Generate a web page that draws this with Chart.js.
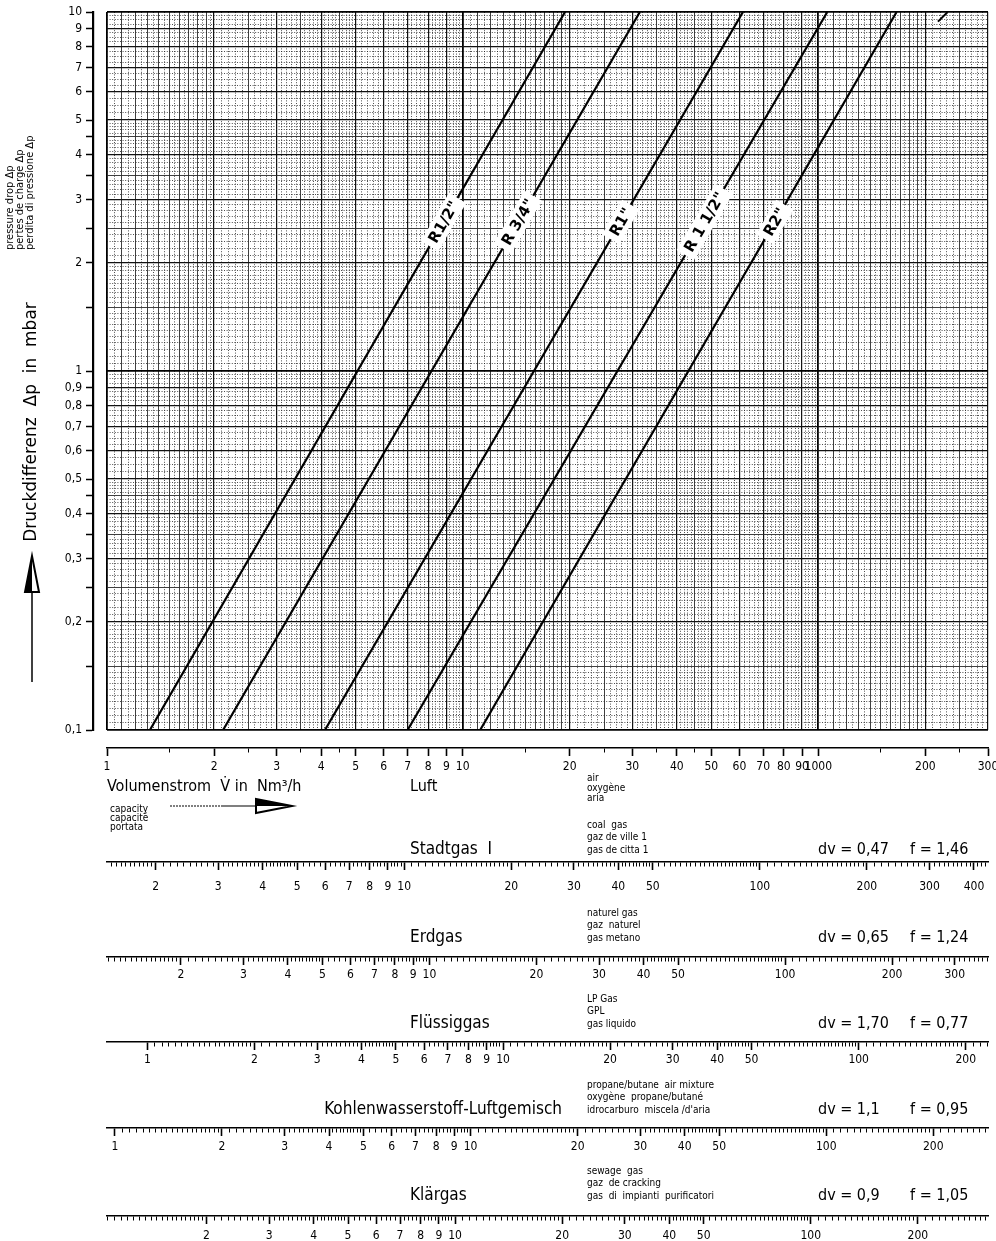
<!DOCTYPE html>
<html>
<head>
<meta charset="utf-8">
<script src="https://cdn.jsdelivr.net/npm/chart.js@4.4.1/dist/chart.umd.min.js"></script>
<style>
  html, body { margin: 0; padding: 0; background: #fff; }
  canvas { display: block; }
</style>
</head>
<body>
<canvas id="chart" width="996" height="1241"></canvas>
<script>
// pipe sizes, air flow (Nm3/h) read at 0,1 mbar and at 10 mbar
const pipeNames = ['R1/2"', 'R 3/4"', 'R1"', 'R 1 1/2"', 'R2"'];
const flowAtLow = [1.32, 2.12, 4.1, 7.0, 11.2];
const flowAtHigh = [19.4, 31.5, 61.4, 106, 166];
const dpEnds = [0.1, 10];
// short line piece at the top right edge
const stubFlow = [217, 231];
const stubDp = [9.4, 10];

// air (Luft) axis
const airTicks = [1, 2, 3, 4, 5, 6, 7, 8, 9, 10, 20, 30, 40, 50, 60, 70, 80, 90, 100, 200, 300];
const airTickText = ['1', '2', '3', '4', '5', '6', '7', '8', '9', '10', '20', '30', '40', '50', '60', '70', '80', '90', '1000', '200', '300'];
const airMinorTicks = [1.5, 2.5, 3.5, 4.5, 15, 25, 35, 45, 150, 250];

// pressure drop axis
const dpTicks = [0.1, 0.2, 0.3, 0.4, 0.5, 0.6, 0.7, 0.8, 0.9, 1, 2, 3, 4, 5, 6, 7, 8, 9, 10];
const dpTickText = ['0,1', '0,2', '0,3', '0,4', '0,5', '0,6', '0,7', '0,8', '0,9', '1', '2', '3', '4', '5', '6', '7', '8', '9', '10'];
const dpMinorTicks = [0.15, 0.25, 0.35, 0.45, 1.5, 2.5, 3.5, 4.5];

// other gases: conversion factor f against air
const gasNames = ['Stadtgas  I', 'Erdgas', 'Flüssiggas', 'Kohlenwasserstoff-Luftgemisch', 'Klärgas'];
const gasInfo = [
  ['coal  gas', 'gaz de ville 1', 'gas de citta 1'],
  ['naturel gas', 'gaz  naturel', 'gas metano'],
  ['LP Gas', 'GPL', 'gas liquido'],
  ['propane/butane  air mixture', 'oxygène  propane/butané', "idrocarburo  miscela /d'aria"],
  ['sewage  gas', 'gaz  de cracking', 'gas  di  impianti  purificatori']
];
const gasDv = ['0,47', '0,65', '1,70', '1,1', '0,9'];
const gasFText = ['1,46', '1,24', '0,77', '0,95', '1,05'];
const gasF = [1.46, 1.24, 0.77, 0.95, 1.05];
const gasTicks = [
  [2, 3, 4, 5, 6, 7, 8, 9, 10, 20, 30, 40, 50, 100, 200, 300, 400],
  [2, 3, 4, 5, 6, 7, 8, 9, 10, 20, 30, 40, 50, 100, 200, 300],
  [1, 2, 3, 4, 5, 6, 7, 8, 9, 10, 20, 30, 40, 50, 100, 200],
  [1, 2, 3, 4, 5, 6, 7, 8, 9, 10, 20, 30, 40, 50, 100, 200],
  [2, 3, 4, 5, 6, 7, 8, 9, 10, 20, 30, 40, 50, 100, 200]
];

const xMin = 1, xMax = 300;
const labelDp = 2.6;

// layout (pixels)
const plotTop = 12, plotBottom = 730, plotRight = 988;
const yAxisWidth = 93, yGap = 14;
const airAxisY = 748;
const gasAxisY = [862, 957, 1042, 1128, 1216];
const gasTextY = [850, 938, 1024, 1110, 1196];
const gasLabelPad = [10, 3, 3, 4, 5];
const canvasH = 1241;

const FONT = "'DejaVu Sans', sans-serif";
const FONT_C = "'DejaVu Sans Condensed', 'DejaVu Sans', sans-serif";
Chart.defaults.font.family = FONT_C;
Chart.defaults.color = '#000';

const key = v => (+v).toPrecision(5);
const mant = v => +(v / Math.pow(10, Math.floor(Math.log10(v) + 1e-9))).toPrecision(6);
const isInt = v => Math.abs(v - Math.round(v)) < 1e-6;

// grid / tick values per decade: steps within [1,2), [2,5), [5,10)
function logSteps(lo, hi, steps) {
  const out = [];
  const segs = [[1, 2, steps[0]], [2, 5, steps[1]], [5, 10, steps[2]]];
  for (let e = Math.floor(Math.log10(lo) + 1e-9); Math.pow(10, e) <= hi; e++) {
    const d = Math.pow(10, e);
    for (const [a, b, s] of segs) {
      const n = Math.round((b - a) / s);
      for (let i = 0; i < n; i++) {
        const v = +((a + i * s) * d).toPrecision(6);
        if (v >= lo * 0.9999 && v <= hi * 1.0001) out.push(v);
      }
    }
  }
  return out;
}

function merge(...lists) {
  const m = new Map();
  lists.flat().forEach(v => m.set(key(v), v));
  return [...m.values()].sort((a, b) => a - b);
}

const xGridVals = logSteps(xMin, xMax, [0.05, 0.1, 0.2]);
const yGridVals = logSteps(dpEnds[0], dpEnds[1], [0.05, 0.1, 0.25]);

function xKind(v) {
  const m = mant(v);
  if (isInt(m)) return m === 1 ? 'decade' : 'major';
  if (m < 2) return isInt(m * 10) ? 'mid' : 'minor';
  if (m < 5) return isInt(m * 2) ? 'mid' : 'minor';
  return 'minor';
}
function yKind(v) {
  const m = mant(v);
  if (isInt(m)) return m === 1 ? 'decade' : 'major';
  if (m < 5 && isInt(m * 2)) return 'mid';
  return 'minor';
}
const gridStyle = {
  decade: { color: '#000', width: 1.8, dash: [] },
  major: { color: '#111', width: 1.2, dash: [] },
  mid: { color: '#2a2a2a', width: 0.9, dash: [] },
  minor: { color: '#222', width: 0.8, dash: [1, 1.6] }
};
const styleOf = (c, kindFn, prop) => {
  const k = c.tick ? kindFn(c.tick.value) : 'minor';
  return gridStyle[k][prop];
};

function fixedTicks(values) {
  return s => { s.ticks = values.map(v => ({ value: v })); };
}
function fixedHeight(h) {
  return s => { s.height = h; s.paddingLeft = 0; s.paddingRight = 0; };
}

function labelScale(id, weight, min, max, labelled, texts, extra, height, pad) {
  const names = new Map(labelled.map((v, i) => [key(v), texts[i]]));
  return {
    type: 'logarithmic', axis: 'x', position: 'bottom', weight, min, max,
    afterBuildTicks: fixedTicks(merge(labelled, extra)),
    afterFit: fixedHeight(height),
    ticks: {
      autoSkip: false, maxRotation: 0, minRotation: 0, padding: pad,
      font: { size: 12 },
      callback: v => names.get(key(v)) || ''
    },
    grid: {
      drawOnChartArea: false, drawTicks: true, tickLength: 8, tickColor: '#000',
      tickWidth: c => (c.tick && names.has(key(c.tick.value))) ? 1.6 : 1,
      tickBorderDash: c => (c.tick && names.has(key(c.tick.value))) ? [] : [4, 40]
    },
    border: { display: true, color: '#000', width: 1.5 }
  };
}

const scales = {
  x: {
    type: 'logarithmic', position: 'bottom', weight: 0, min: xMin, max: xMax,
    afterBuildTicks: fixedTicks(xGridVals),
    afterFit: fixedHeight(airAxisY - plotBottom),
    ticks: { display: false },
    grid: {
      drawTicks: false,
      color: c => styleOf(c, xKind, 'color'),
      lineWidth: c => styleOf(c, xKind, 'width')
    },
    border: { display: false, dash: c => styleOf(c, xKind, 'dash') }
  },
  y: {
    type: 'logarithmic', position: 'left', weight: 0, min: dpEnds[0], max: dpEnds[1],
    afterBuildTicks: fixedTicks(yGridVals),
    afterFit: s => { s.width = yGap; s.paddingTop = 0; s.paddingBottom = 0; },
    ticks: { display: false },
    grid: {
      drawTicks: false,
      color: c => styleOf(c, yKind, 'color'),
      lineWidth: c => styleOf(c, yKind, 'width')
    },
    border: { display: false, dash: c => styleOf(c, yKind, 'dash') }
  },
  yAxis: {
    type: 'logarithmic', axis: 'y', position: 'left', weight: 1, min: dpEnds[0], max: dpEnds[1],
    afterBuildTicks: fixedTicks(merge(dpTicks, dpMinorTicks)),
    afterFit: s => { s.width = yAxisWidth; s.paddingTop = 0; s.paddingBottom = 0; },
    ticks: {
      autoSkip: false, padding: 4, font: { size: 12 },
      callback: (v) => {
        const i = dpTicks.findIndex(t => key(t) === key(v));
        return i >= 0 ? dpTickText[i] : '';
      }
    },
    grid: { drawOnChartArea: false, drawTicks: true, tickLength: 7, tickWidth: 1.5, tickColor: '#000' },
    border: { display: true, color: '#000', width: 2.2 }
  },
  xAir: labelScale('xAir', 1, xMin, xMax, airTicks, airTickText, airMinorTicks, gasAxisY[0] - airAxisY, 4)
};

gasNames.forEach((g, i) => {
  const lo = xMin * gasF[i], hi = xMax * gasF[i];
  const h = (i < gasNames.length - 1 ? gasAxisY[i + 1] : canvasH) - gasAxisY[i];
  scales['xGas' + i] = labelScale('xGas' + i, 2 + i, lo, hi, gasTicks[i], gasTicks[i].map(String),
    logSteps(Math.max(lo, 1), hi, [0.05, 0.1, 0.2]), h, gasLabelPad[i]);
});

const datasets = pipeNames.map((name, i) => ({
  label: name,
  data: [{ x: flowAtLow[i], y: dpEnds[0] }, { x: flowAtHigh[i], y: dpEnds[1] }],
  xAxisID: 'x', yAxisID: 'y',
  showLine: true, borderColor: '#000', borderWidth: 2.2, pointRadius: 0, fill: false
}));
datasets.push({
  label: '',
  data: stubFlow.map((v, i) => ({ x: v, y: stubDp[i] })),
  xAxisID: 'x', yAxisID: 'y',
  showLine: true, borderColor: '#000', borderWidth: 2, pointRadius: 0, fill: false
});

function openArrow(ctx, pts, fillHalf) {
  const path = p => {
    ctx.beginPath();
    ctx.moveTo(p[0][0], p[0][1]);
    p.slice(1).forEach(q => ctx.lineTo(q[0], q[1]));
    ctx.closePath();
  };
  path(pts);
  ctx.fillStyle = '#fff';
  ctx.fill();
  path(fillHalf);
  ctx.fillStyle = '#000';
  ctx.fill();
  path(pts);
  ctx.lineWidth = 2;
  ctx.strokeStyle = '#000';
  ctx.stroke();
}

const textPlugin = {
  id: 'texts',
  afterDraw(chart) {
    const ctx = chart.ctx;
    const xs = chart.scales.x, ys = chart.scales.y;
    ctx.save();

    // pipe size labels sitting on the lines
    const t = (Math.log10(labelDp) - Math.log10(dpEnds[0])) / (Math.log10(dpEnds[1]) - Math.log10(dpEnds[0]));
    pipeNames.forEach((name, i) => {
      const a = Math.log10(flowAtLow[i]), b = Math.log10(flowAtHigh[i]);
      const v = Math.pow(10, a + t * (b - a));
      const px = xs.getPixelForValue(v), py = ys.getPixelForValue(labelDp);
      const ang = Math.atan2(ys.getPixelForValue(dpEnds[1]) - ys.getPixelForValue(dpEnds[0]),
        xs.getPixelForValue(flowAtHigh[i]) - xs.getPixelForValue(flowAtLow[i]));
      ctx.save();
      ctx.translate(px, py);
      ctx.rotate(ang);
      ctx.font = 'bold 15px ' + FONT;
      const w = ctx.measureText(name).width;
      ctx.fillStyle = '#fff';
      ctx.fillRect(-w / 2 - 5, -10, w + 10, 20);
      ctx.fillStyle = '#000';
      ctx.textAlign = 'center';
      ctx.textBaseline = 'middle';
      ctx.fillText(name, 0, 1);
      ctx.restore();
    });

    // y axis titles
    ctx.fillStyle = '#000';
    ctx.save();
    ctx.translate(32, 422);
    ctx.rotate(-Math.PI / 2);
    ctx.font = '17px ' + FONT;
    ctx.textAlign = 'center';
    ctx.textBaseline = 'middle';
    ctx.fillText('Druckdifferenz  Δp  in  mbar', 0, 0);
    ctx.restore();

    ['pressure drop Δp', 'pertes de charge Δp', 'perdita di pressione Δp'].forEach((s, i) => {
      ctx.save();
      ctx.translate(10 + i * 10, 250);
      ctx.rotate(-Math.PI / 2);
      ctx.font = '11px ' + FONT_C;
      ctx.textAlign = 'left';
      ctx.textBaseline = 'middle';
      ctx.fillText(s, 0, 0);
      ctx.restore();
    });

    ctx.strokeStyle = '#000';
    ctx.lineWidth = 1.5;
    ctx.beginPath();
    ctx.moveTo(32, 682);
    ctx.lineTo(32, 590);
    ctx.stroke();
    openArrow(ctx, [[32, 556], [39, 592], [25, 592]], [[32, 556], [32, 592], [25, 592]]);

    // flow axis captions
    ctx.textAlign = 'left';
    ctx.textBaseline = 'middle';
    ctx.fillStyle = '#000';
    ctx.font = '16px ' + FONT_C;
    ctx.fillText('Volumenstrom  V\u0307 in  Nm³/h', 107, 787);
    ctx.fillText('Luft', 410, 787);
    ctx.font = '10px ' + FONT_C;
    ['air', 'oxygène', 'aria'].forEach((s, i) => ctx.fillText(s, 587, 778 + i * 10));
    ['capacity', 'capacité', 'portata'].forEach((s, i) => ctx.fillText(s, 110, 809 + i * 9));

    ctx.lineWidth = 1.2;
    ctx.setLineDash([2, 1]);
    ctx.beginPath();
    ctx.moveTo(170, 806);
    ctx.lineTo(222, 806);
    ctx.stroke();
    ctx.setLineDash([]);
    ctx.beginPath();
    ctx.moveTo(222, 806);
    ctx.lineTo(256, 806);
    ctx.stroke();
    openArrow(ctx, [[256, 799], [292, 806], [256, 813]], [[256, 799], [292, 806], [256, 806]]);

    // gas rows
    gasNames.forEach((g, i) => {
      const y = gasTextY[i];
      ctx.fillStyle = '#000';
      ctx.textBaseline = 'middle';
      ctx.font = '17px ' + FONT_C;
      if (ctx.measureText(g).width > 150) {
        ctx.textAlign = 'right';
        ctx.fillText(g, 562, y);
      } else {
        ctx.textAlign = 'left';
        ctx.fillText(g, 410, y);
      }
      ctx.textAlign = 'left';
      ctx.font = '16px ' + FONT_C;
      ctx.fillText('dv = ' + gasDv[i], 818, y);
      ctx.fillText('f = ' + gasFText[i], 910, y);
      ctx.font = '10px ' + FONT_C;
      gasInfo[i].forEach((s, j) => ctx.fillText(s, 587, y - (2 - j) * 12.5));
    });
    ctx.restore();
  }
};

new Chart(document.getElementById('chart'), {
  type: 'scatter',
  data: { datasets },
  options: {
    responsive: false,
    animation: false,
    events: [],
    layout: { padding: { top: plotTop, right: 996 - plotRight, left: 0, bottom: 0 } },
    plugins: { legend: { display: false }, tooltip: { enabled: false } },
    scales
  },
  plugins: [textPlugin]
});
</script>
</body>
</html>
